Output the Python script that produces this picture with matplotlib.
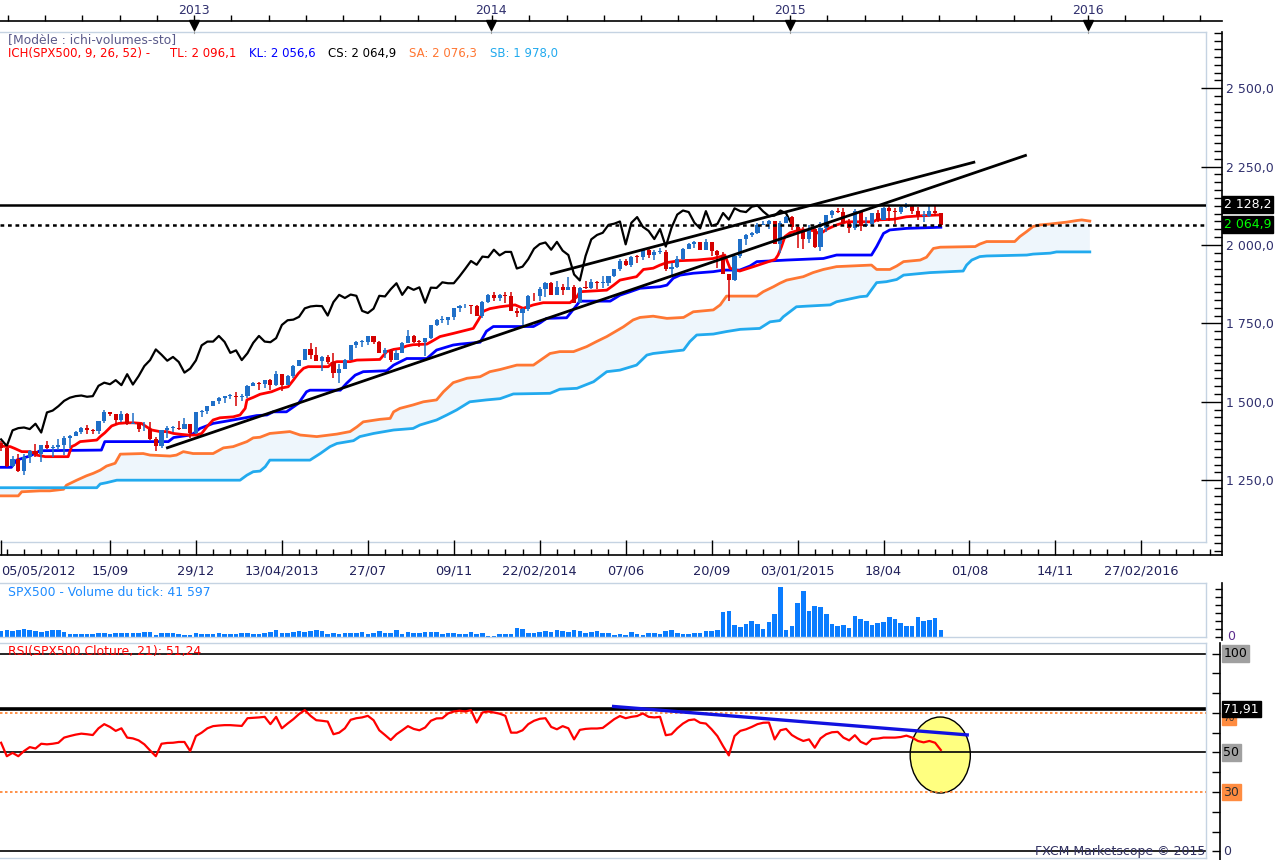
import matplotlib
matplotlib.use("Agg")
import matplotlib.pyplot as plt
import numpy as np
from matplotlib.patches import Ellipse
from matplotlib.ticker import FixedLocator, MultipleLocator, FuncFormatter, NullFormatter

plt.rcParams['font.family'] = ['DejaVu Sans']

# ---------------- DATA (weekly bars, index 0 = week of 05/05/2012) ----------------
opens = [1369,1353,1295,1318,1278,1325,1343,1335,1362,1354,
         1357,1362,1386,1391,1405,1418,1411,1407,1438,1466,
         1460,1441,1461,1429,1433,1412,1414,1380,1359,1409,
         1416,1418,1413,1430,1402,1466,1472,1486,1503,1513,
         1518,1520,1516,1518,1551,1561,1556,1569,1553,1588,
         1555,1582,1614,1633,1667,1650,1631,1643,1627,1593,
         1606,1632,1680,1692,1692,1710,1691,1656,1664,1633,
         1655,1688,1710,1692,1690,1703,1745,1760,1762,1771,
         1798,1804,1806,1805,1775,1818,1841,1831,1842,1838,
         1790,1783,1797,1838,1836,1859,1878,1841,1866,1857,
         1865,1816,1864,1863,1881,1878,1878,1900,1924,1949,
         1937,1963,1961,1985,1967,1978,1978,1925,1931,1955,
         1988,2003,2008,1985,2010,1982,1968,1906,1887,1965,
         2018,2032,2039,2064,2068,2075,2002,2071,2089,2058,
         2045,2019,2051,1995,2055,2097,2110,2105,2071,2053,
         2108,2061,2067,2102,2081,2117,2108,2105,2122,2126,
         2107,2092,2094,2110,2101]
closes = [1353,1295,1318,1278,1325,1343,1335,1362,1354,1357,
          1362,1386,1391,1405,1418,1411,1407,1438,1466,1460,
          1441,1461,1429,1433,1412,1414,1380,1359,1409,1416,
          1418,1413,1430,1402,1466,1472,1486,1503,1513,1518,
          1520,1516,1518,1551,1561,1556,1569,1553,1588,1555,
          1582,1614,1633,1667,1650,1631,1643,1627,1593,1606,
          1632,1680,1692,1692,1710,1691,1656,1664,1633,1655,
          1688,1710,1692,1690,1703,1745,1760,1762,1771,1798,
          1804,1806,1805,1775,1818,1841,1831,1842,1838,1790,
          1783,1797,1838,1836,1859,1878,1841,1866,1857,1865,
          1816,1864,1863,1881,1878,1878,1900,1924,1949,1937,
          1963,1961,1985,1967,1978,1978,1925,1931,1955,1988,
          2003,2008,1985,2010,1982,1968,1906,1887,1965,2018,
          2032,2039,2064,2068,2075,2002,2071,2089,2058,2045,
          2019,2051,1995,2055,2097,2110,2105,2071,2053,2108,
          2061,2067,2102,2081,2117,2108,2105,2122,2126,2107,
          2092,2094,2110,2101,2064.9]
highs = [1374,1358,1328,1335,1335,1345,1364,1363,1374,1361,
         1380,1392,1394,1406,1420,1426,1413,1438,1475,1469,
         1460,1470,1465,1464,1433,1434,1434,1388,1409,1424,
         1423,1438,1448,1430,1467,1473,1486,1503,1514,1518,
         1524,1530,1525,1552,1564,1564,1570,1573,1597,1589,
         1585,1618,1634,1667,1687,1674,1646,1648,1654,1620,
         1636,1681,1693,1698,1710,1710,1693,1670,1669,1665,
         1690,1730,1712,1697,1704,1746,1764,1775,1771,1799,
         1808,1813,1810,1809,1823,1844,1850,1843,1850,1850,
         1798,1798,1841,1847,1867,1883,1881,1884,1875,1897,
         1873,1865,1885,1891,1885,1902,1901,1924,1956,1955,
         1964,1968,1985,1986,1984,1992,1984,1943,1964,1992,
         2005,2012,2008,2020,2011,1985,1977,1907,1966,2019,
         2034,2041,2071,2075,2079,2075,2077,2093,2091,2064,
         2057,2065,2058,2072,2097,2111,2119,2117,2083,2114,
         2109,2089,2103,2112,2120,2126,2117,2123,2134,2127,
         2121,2109,2127,2126,2101]
lows = [1344,1292,1291,1277,1267,1306,1324,1309,1350,1325,
        1345,1329,1354,1391,1398,1398,1397,1398,1431,1456,
        1430,1437,1425,1429,1403,1406,1377,1343,1353,1386,
        1403,1411,1413,1386,1398,1451,1461,1485,1492,1495,
        1509,1485,1501,1513,1549,1538,1545,1539,1549,1536,
        1553,1577,1614,1632,1635,1631,1598,1621,1577,1560,
        1605,1632,1672,1675,1682,1683,1654,1640,1628,1633,
        1655,1686,1687,1674,1646,1700,1742,1752,1746,1761,
        1786,1800,1779,1772,1767,1816,1823,1823,1815,1788,
        1770,1737,1791,1820,1821,1834,1839,1840,1842,1857,
        1814,1815,1859,1859,1859,1862,1868,1897,1918,1934,
        1930,1944,1952,1959,1952,1972,1916,1904,1928,1953,
        1988,1990,1983,1983,1965,1926,1906,1821,1886,1960,
        2001,2027,2034,2064,2050,2002,1973,2069,2047,1992,
        1988,2006,1989,1981,2041,2085,2103,2067,2039,2049,
        2045,2057,2064,2072,2081,2077,2067,2099,2118,2099,
        2081,2072,2088,2093,2056]

# Ichimoku lines: (bar index, value)
tenkan_pts = [(-0.2,1359),(1.6,1357),(2.4,1351),(3.6,1341),(5.0,1341),(5.6,1338),(6.2,1330),(7.7,1325),
              (11.7,1325),(12.3,1357),(12.9,1362),(13.8,1373),(16.7,1378),(17.3,1389),(18.1,1401),(19.3,1423),
              (20.5,1431),(21.9,1433),(23.1,1433),(24.5,1431),(25.4,1420),(26.3,1410),(27.7,1405),(28.9,1405),
              (30.1,1399),(31.5,1396),(32.7,1394),(34.1,1394),(35.0,1399),(35.9,1420),(37.0,1442),(38.2,1449),
              (40.5,1452),(41.7,1458),(42.6,1479),(42.9,1506),(44.0,1514),(45.2,1524),(47.2,1532),(48.7,1543),
              (50.1,1548),(51.0,1569),(51.9,1591),(52.8,1607),(53.6,1612),(57.1,1612),(57.7,1623),(58.6,1628),
              (60.9,1628),(62.1,1633),(66.1,1635),(67.3,1660),(68.5,1667),(69.6,1670),(70.8,1678),(71.9,1682),
              (74.3,1684),(75.1,1692),(76.6,1708),(78.9,1718),(81.3,1729),(82.4,1734),(83.3,1761),(84.2,1789),
              (85.3,1797),(87.1,1803),(89.7,1809),(91.1,1798),(92.9,1809),(94.6,1816),(99.3,1816),(100.5,1835),
              (101.0,1851),(105.7,1856),(106.9,1872),(108.0,1888),(110.9,1899),(112.1,1922),(113.8,1926),
              (115.0,1936),(116.2,1944),(117.3,1947),(118.5,1950),(121.4,1952),(124.3,1957),(125.5,1963),
              (126.3,1968),(127.2,1926),(128.9,1917),(131.3,1931),(135.1,1954),(135.6,1968),(136.2,1995),
              (136.8,2027),(137.7,2039),(139.4,2048),(141.8,2046),(142.9,2035),(144.1,2050),(145.8,2064),
              (147.6,2074),(152.2,2074),(152.8,2080),(155.7,2082),(158.0,2090),(160.4,2093),(162.7,2095),
              (164.0,2096.1)]
kijun_pts = [(-0.2,1291),(1.8,1291),(2.7,1314),(5.0,1327),(6.8,1344),(17.5,1346),(18.1,1373),(29.2,1373),
             (30.1,1386),(33.0,1394),(33.6,1399),(34.7,1415),(37.0,1431),(40.5,1442),(42.9,1450),(44.6,1456),
             (46.4,1458),(47.5,1468),(49.8,1468),(51.9,1495),(53.3,1532),(53.9,1537),(59.2,1537),(60.3,1559),
             (61.8,1585),(63.2,1596),(67.3,1599),(68.5,1617),(70.8,1638),(74.3,1638),(76.0,1665),(78.9,1681),
             (80.1,1684),(83.6,1690),(84.7,1725),(85.9,1740),(92.9,1740),(94.1,1752),(95.2,1766),(98.7,1768),
             (100.5,1809),(101.0,1821),(106.3,1821),(108.0,1840),(109.8,1851),(111.5,1862),(115.0,1867),
             (116.2,1872),(117.3,1894),(118.5,1904),(120.8,1910),(124.3,1915),(126.1,1920),(128.9,1920),
             (130.7,1933),(131.9,1947),(137.1,1952),(143.5,1957),(145.8,1968),(151.9,1968),(152.8,1995),
             (154.0,2037),(155.1,2048),(158.0,2053),(164.0,2056.6)]
senkou_a_pts = [(-0.2,1200),(3.0,1200),(3.6,1213),(6.8,1216),(8.5,1216),(10.9,1221),(11.4,1234),(13.2,1250),
                (14.9,1264),(16.1,1272),(17.3,1282),(18.4,1295),(19.9,1304),(20.8,1333),(24.8,1335),(26.0,1330),
                (29.5,1327),(30.6,1330),(31.8,1341),(33.5,1335),(37.0,1335),(38.8,1353),(40.5,1357),(42.9,1373),
                (44.0,1385),(45.2,1387),(46.9,1399),(50.4,1405),(52.2,1394),(55.1,1389),(58.6,1397),(60.9,1405),
                (62.1,1420),(63.2,1436),(66.1,1444),(67.9,1447),(68.5,1468),(69.6,1479),(71.9,1490),(73.7,1500),
                (76.0,1506),(77.2,1532),(78.9,1561),(81.3,1575),(83.6,1580),(85.3,1596),(87.1,1603),(90.0,1617),
                (92.9,1617),(95.8,1654),(97.5,1660),(99.9,1660),(102.2,1676),(103.9,1692),(105.7,1708),
                (108.6,1739),(110.3,1761),(111.5,1769),(113.8,1773),(116.2,1766),(119.1,1769),(120.8,1787),
                (124.3,1793),(125.5,1809),(126.6,1837),(131.9,1837),(133.0,1851),(134.8,1867),(135.9,1878),
                (137.1,1888),(140.0,1899),(141.7,1912),(143.5,1922),(145.8,1931),(151.9,1936),(152.8,1922),
                (155.1,1922),(156.3,1933),(157.5,1947),(160.4,1952),(161.5,1961),(162.7,1989),(163.9,1993),
                (170.0,1995),(170.8,2003),(172.0,2011),(176.9,2011),(177.8,2027),(179.0,2043),(180.1,2059),
                (181.3,2064),(183.1,2067),(186.0,2073),(187.7,2078),(188.6,2080),(190.0,2076.3)]
senkou_b_pts = [(-0.2,1226),(16.7,1226),(17.3,1238),(18.4,1242),(20.2,1250),(41.7,1250),(42.9,1266),(44.0,1277),
                (45.2,1279),(46.1,1293),(46.9,1314),(53.9,1314),(55.7,1335),(57.4,1357),(58.6,1367),(61.5,1376),
                (62.6,1389),(65.0,1399),(68.5,1410),(71.9,1415),(73.1,1426),(76.0,1442),(77.8,1458),(79.5,1474),
                (81.8,1500),(84.7,1506),(87.1,1510),(89.4,1525),(95.8,1527),(97.5,1540),(100.5,1543),(103.4,1564),
                (105.7,1596),(108.0,1601),(110.9,1617),(112.7,1649),(113.8,1654),(119.1,1665),(120.2,1692),
                (121.4,1713),(124.3,1716),(126.6,1724),(129.0,1731),(132.4,1734),(134.2,1755),(135.9,1759),
                (136.5,1771),(138.8,1803),(140.6,1805),(144.7,1809),(145.8,1819),(149.9,1835),(151.1,1837),
                (152.8,1880),(154.5,1883),(156.3,1890),(157.5,1904),(162.1,1912),(167.9,1917),(168.5,1936),
                (169.4,1952),(170.8,1963),(172.0,1965),(179.0,1968),(180.1,1971),(183.1,1974),(184.2,1978),
                (190.0,1978)]
chikou_shift = 26

# Drawn support / resistance lines (bar index, price)
trend1 = [(28.8,1352), (179.0,2287)]
trend2 = [(95.8,1907), (170.0,2265)]
resistance = 2128.2
last_close_level = 2064.9

# Tick volume (thousands)
volume = [37,42,37,46,48,46,37,31,37,42, 42,29,19,17,17,17,21,23,25,21,
          25,23,23,25,27,29,31,15,23,23, 27,17,12,12,25,17,17,17,25,19,
          17,19,25,23,21,21,25,29,42,27, 23,31,35,33,37,46,37,21,25,21,
          23,23,25,31,21,23,35,25,27,42, 21,33,27,23,31,33,31,19,25,25,
          21,19,
          31,17,27,4,4,17,17,17,54,48, 23,23,29,35,29,42,35,29,42,35,
          23,29,35,23,23,10,17,10,29,17, 10,23,23,17,35,42,23,17,17,23,
          23,35,35,42,154,160,73,60,79,98, 79,48,92,141,312,42,67,210,285,160,
          191,185,141,79,67,73,54,129,110,98, 73,85,92,123,110,85,67,67,123,98,
          104,116,41.6]

# RSI(21)
rsi = [54.9,48.1,49.8,48.1,50.7,52.7,52.0,54.4,54.1,54.4,
       54.9,57.5,58.3,59.0,59.5,59.2,58.8,62.2,64.3,62.9,
       60.9,62.2,57.5,57.1,56.1,54.1,51.0,48.1,54.4,54.8,
       54.9,55.3,55.3,50.7,58.3,60.0,62.2,63.3,63.6,63.8,
       63.8,63.6,63.4,67.3,67.5,67.7,68.0,64.3,68.0,62.2,
       64.6,66.8,69.4,71.4,68.5,66.3,66.0,65.6,59.2,60.0,
       62.2,66.5,67.3,67.7,68.5,66.3,61.2,58.8,56.3,59.2,
       61.2,63.3,61.9,61.2,62.6,66.0,67.2,67.3,69.7,70.7,
       71.1,70.7,71.4,65.1,70.2,70.7,70.2,69.6,68.5,60.0,
       60.0,61.2,64.3,66.0,67.0,67.3,62.9,61.7,63.3,62.2,
       56.6,61.4,61.9,62.1,62.1,62.4,64.6,66.8,68.4,67.3,
       68.0,68.4,69.7,68.0,67.7,68.0,58.7,59.2,62.2,64.6,
       66.3,66.7,65.0,64.6,61.7,58.3,53.2,48.5,58.3,60.9,
       61.7,62.9,64.3,65.0,65.1,56.6,61.2,61.9,58.8,57.1,
       55.8,56.6,52.4,57.1,59.2,60.2,60.4,57.5,56.1,58.7,
       55.4,54.1,56.8,57.0,57.5,57.5,57.5,57.8,58.5,57.5,
       55.8,55.1,55.8,54.9,51.24]
rsi_trend = [(106.6,73.3), (168.9,58.8)]
rsi_marked = 71.91
rsi_ellipse = dict(center=(163.9, 48.7), width=10.5, height=38.4)

# Axis labels
price_ticks = [1250, 1500, 1750, 2000, 2250, 2500]
date_tick_bars = [0, 19, 34, 49, 64, 79, 94, 109, 124, 139, 154, 169, 184, 199]
date_labels = ["05/05/2012", "15/09", "29/12", "13/04/2013", "27/07", "09/11", "22/02/2014",
               "07/06", "20/09", "03/01/2015", "18/04", "01/08", "14/11", "27/02/2016"]
year_bars = [33.7, 85.5, 137.6, 189.7]
year_labels = ["2013", "2014", "2015", "2016"]

# ---------------- LAYOUT ----------------
W, H = 1279, 860
fig = plt.figure(figsize=(W / 100, H / 100), dpi=100)
fig.patch.set_facecolor("white")

def rect(x0, y0, x1, y1):
    return [x0 / W, 1 - y1 / H, (x1 - x0) / W, (y1 - y0) / H]

PXB, X0 = 5.73, 1.1
def bar_at(px):
    return (px - X0) / PXB
def price_at(py):
    return 2000 - (py - 245) * 3.189
def rsi_at(py):
    return (851.4 - py) / 1.979

BORDER = "#c5d3e2"
TXT = "#30306e"
UP, DN = "#1f6fc8", "#d40000"
FS = 8.9

def style_panel(a, left=False):
    for s in ["top", "bottom", "right", "left"]:
        a.spines[s].set_color(BORDER)
        a.spines[s].set_linewidth(1.0)
    a.spines["left"].set_visible(left)
    a.set_xticks([]); a.set_yticks([])

def style_ruler(a):
    for s in ["top", "bottom", "left"]:
        a.spines[s].set_visible(False)
    a.spines["right"].set_color("black")
    a.spines["right"].set_linewidth(1.2)
    a.set_xticks([])
    a.yaxis.tick_right()
    a.patch.set_alpha(0)

XL = (bar_at(0), bar_at(1206))
XLR = (bar_at(0), bar_at(1222))

# ---- main price panel ----
ax = fig.add_axes(rect(0, 32, 1206, 542))
ax.set_xlim(XL)
ax.set_ylim(price_at(542), price_at(32))
style_panel(ax)

k = np.arange(len(closes))
o = np.array(opens, float); c = np.array(closes, float)
hi = np.array(highs, float); lo = np.array(lows, float)
cols = np.where(c >= o, UP, DN)

# cloud
sa_k, sa_v = map(np.array, zip(*senkou_a_pts))
sb_k, sb_v = map(np.array, zip(*senkou_b_pts))
ax.fill(np.concatenate([sa_k, sb_k[::-1]]), np.concatenate([sa_v, sb_v[::-1]]),
        color="#eef6fc", lw=0, zorder=1)
ax.plot(sa_k, sa_v, color="#ff7733", lw=2, zorder=2)
ax.plot(sb_k, sb_v, color="#22aaee", lw=2, zorder=2)

tk_k, tk_v = zip(*tenkan_pts)
kj_k, kj_v = zip(*kijun_pts)
ax.plot(kj_k, kj_v, color="#0000ff", lw=2, zorder=3)
ax.plot(tk_k, tk_v, color="#ff0000", lw=2, zorder=3)
ax.plot(k[chikou_shift:] - chikou_shift, c[chikou_shift:], color="black", lw=1.6, zorder=3)

ax.vlines(k, lo, hi, colors=cols, lw=1.1, zorder=4)
ax.bar(k, np.maximum(np.abs(c - o), 2.5), bottom=np.minimum(o, c), width=0.72,
       color=cols, lw=0, zorder=5)

for (x1, y1), (x2, y2) in [trend1, trend2]:
    ax.plot([x1, x2], [y1, y2], color="black", lw=2, zorder=6, solid_capstyle="butt")
ax.axhline(resistance, color="black", lw=1.8, zorder=6)
ax.axhline(last_close_level, color="black", lw=1.8, ls=(0, (1.5, 1.5)), zorder=6)

fig.text(8 / W, 1 - 40 / H, "[Modèle : ichi-volumes-sto]", color="#5a5a8a", fontsize=FS, va="center")
legend_parts = [(8, "ICH(SPX500, 9, 26, 52) -", "#ff0000"), (170, "TL: 2 096,1", "#ff0000"),
                (249, "KL: 2 056,6", "#0000ff"), (328, "CS: 2 064,9", "#000000"),
                (409, "SA: 2 076,3", "#ff7733"), (490, "SB: 1 978,0", "#22aaee")]
for xp, t, col in legend_parts:
    fig.text(xp / W, 1 - 54 / H, t, color=col, fontsize=8.5, va="center")

# right price ruler
axr = fig.add_axes(rect(1206, 32, 1222, 555))
axr.set_ylim(price_at(555), price_at(32)); axr.set_xlim(0, 1)
style_ruler(axr)
axr.yaxis.set_major_locator(FixedLocator(price_ticks))
axr.yaxis.set_minor_locator(MultipleLocator(25))
axr.yaxis.set_major_formatter(FuncFormatter(lambda v, p: f"{int(v):,}".replace(",", " ") + ",0"))
axr.tick_params(axis="y", which="major", direction="in", length=15, width=1, colors="black",
                labelcolor=TXT, labelsize=9, pad=3)
axr.tick_params(axis="y", which="minor", direction="in", length=6, width=1, colors="black")
tr = axr.get_yaxis_transform()
axr.text(1.12, resistance, "2 128,2", transform=tr, color="white", fontsize=9, va="center",
         bbox=dict(boxstyle="square,pad=0.15", fc="black", ec="black"), clip_on=False, zorder=10)
axr.text(1.12, last_close_level, "2 064,9", transform=tr, color="#00ff00", fontsize=9, va="center",
         bbox=dict(boxstyle="square,pad=0.15", fc="black", ec="black"), clip_on=False, zorder=10)

# bottom date ruler
axb = fig.add_axes(rect(0, 542, 1222, 555))
axb.set_xlim(XLR); axb.set_ylim(0, 1)
for s in ["top", "left", "right"]:
    axb.spines[s].set_visible(False)
axb.spines["bottom"].set_color("black"); axb.spines["bottom"].set_linewidth(1.2)
axb.patch.set_alpha(0)
axb.set_yticks([])
axb.set_xticks(date_tick_bars)
axb.set_xticklabels(date_labels)
axb.xaxis.set_minor_locator(FixedLocator(np.arange(1, 213, 3)))
axb.tick_params(axis="x", which="major", direction="in", length=11, width=1, colors="black",
                labelcolor="#20205a", labelsize=9.3, pad=7)
axb.tick_params(axis="x", which="minor", direction="in", length=4, width=1, colors="black")
axb.get_xticklabels()[0].set_ha("left")

# top year ruler
axt = fig.add_axes(rect(0, 0, 1222, 21))
axt.set_xlim(XLR); axt.set_ylim(0, 1)
for s in ["top", "left", "right"]:
    axt.spines[s].set_visible(False)
axt.spines["bottom"].set_color("black"); axt.spines["bottom"].set_linewidth(1.2)
axt.patch.set_alpha(0)
axt.set_yticks([])
axt.set_xticks(np.arange(1.2, 213, 6.5))
axt.tick_params(axis="x", direction="in", length=4, width=1, colors="black", labelbottom=False)
for yb, yl in zip(year_bars, year_labels):
    axt.text(yb, 0.5, yl, ha="center", va="center", color=TXT, fontsize=9)
    axt.plot([yb, yb], [0, -0.55], color="#a0a0a0", lw=0.8, clip_on=False)
    axt.plot([yb], [-0.2], marker="v", ms=6.5, color="black", clip_on=False)

# ---- volume panel ----
axv = fig.add_axes(rect(0, 583, 1206, 637))
axv.set_xlim(XL); axv.set_ylim(0, 337)
style_panel(axv)
axv.bar(k, volume, width=0.8, color="#0a7cff", lw=0)
fig.text(8 / W, 1 - 592 / H, "SPX500 - Volume du tick: 41 597", color="#1e8cff", fontsize=FS, va="center")

axvr = fig.add_axes(rect(1206, 583, 1222, 640))
axvr.set_xlim(0, 1); axvr.set_ylim(-3 / 0.1602, 337)
style_ruler(axvr)
axvr.yaxis.set_major_locator(MultipleLocator(50))
axvr.yaxis.set_major_formatter(NullFormatter())
axvr.tick_params(axis="y", direction="in", length=5, width=1, colors="black")
axvr.text(1.35, 0, "0", transform=axvr.get_yaxis_transform(), color="#5b2c8c", fontsize=9,
          va="center", clip_on=False)

# ---- RSI panel ----
axs = fig.add_axes(rect(0, 643, 1206, 858))
axs.set_xlim(XL); axs.set_ylim(rsi_at(858), rsi_at(643))
style_panel(axs)
for lv in [100, 50, 0]:
    axs.axhline(lv, color="black", lw=1.2, zorder=2)
axs.axhline(rsi_marked, color="black", lw=2.6, zorder=2)
for lv in [70, 30]:
    axs.axhline(lv, color="#ff7f2a", lw=1.2, ls=(0, (1.5, 1.5)), zorder=2)
axs.add_patch(Ellipse(rsi_ellipse["center"], rsi_ellipse["width"], rsi_ellipse["height"],
                      fc="#ffff80", ec="black", lw=1, zorder=1.5))
axs.plot(np.arange(len(rsi)), rsi, color="#ff0000", lw=1.6, zorder=4)
(rx1, ry1), (rx2, ry2) = rsi_trend
axs.plot([rx1, rx2], [ry1, ry2], color="#1212e0", lw=2.4, zorder=5, solid_capstyle="butt")
fig.text(8 / W, 1 - 652 / H, "RSI(SPX500.Cloture, 21): 51,24", color="#ff0000", fontsize=FS, va="center")
fig.text(1035 / W, 1 - 851 / H, "FXCM Marketscope © 2015", color="#303060", fontsize=9, va="center")

axsr = fig.add_axes(rect(1206, 643, 1220, 860))
axsr.set_xlim(0, 1); axsr.set_ylim(rsi_at(860), rsi_at(643))
style_ruler(axsr)
axsr.yaxis.set_major_locator(MultipleLocator(10))
axsr.yaxis.set_major_formatter(NullFormatter())
axsr.tick_params(axis="y", direction="in", length=6, width=1, colors="black")
trs = axsr.get_yaxis_transform()
def box(y, t, fc, tc, fs=9):
    axsr.text(1.25, y, t, transform=trs, color=tc, fontsize=fs, va="center", clip_on=False,
              bbox=dict(boxstyle="square,pad=0.15", fc=fc, ec=fc) if fc else None)
box(100, "100", "#a0a0a0", "black")
box(67.0, "70", "#ff8c40", "#303030", fs=6.5)
box(rsi_marked, "71,91", "black", "white")
box(50, "50", "#a0a0a0", "black")
box(30, "30", "#ff8c40", "#303030")
box(0, "0", None, "#303060")

fig.savefig("out.png", dpi=100, facecolor="white")
